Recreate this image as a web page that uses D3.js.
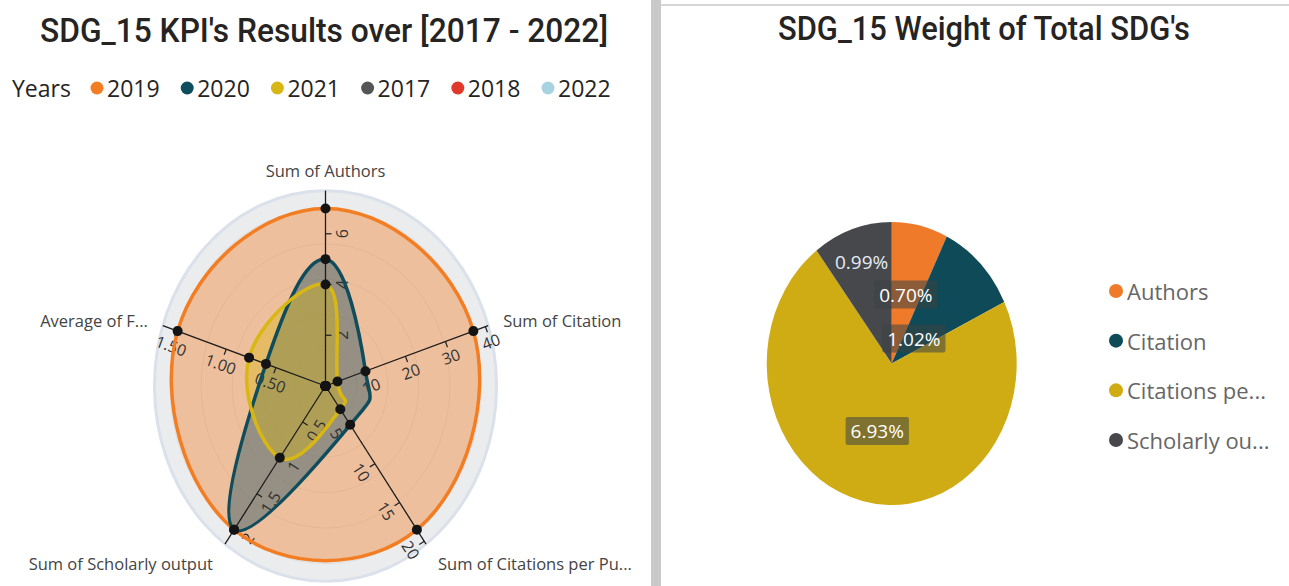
<!DOCTYPE html>
<html>
<head>
<meta charset="utf-8">
<script src="https://cdn.jsdelivr.net/npm/d3@7"></script>
<style>
  html, body { margin: 0; padding: 0; background: #ffffff; }
  svg { display: block; font-family: "Open Sans", "Noto Sans", sans-serif; }
</style>
</head>
<body>
<svg id="chart" width="1289" height="586"></svg>
<script>
// ---- Radar data: one value per KPI axis, per year ----
const kpiAxes = ["Sum of Authors", "Sum of Citation", "Sum of Citations per Pu...", "Sum of Scholarly output", "Average of F..."];
const years = ["2019", "2020", "2021", "2017", "2018", "2022"];
const values2019 = [7, 37, 18.5, 2, 1.49];
const values2020 = [5, 10, 5, 2, 0.6];
const values2021 = [4, 3, 3, 1, 0.77];
const values2017 = [0, 0, 0, 0, 0];
const values2018 = [0, 0, 0, 0, 0];
const values2022 = [0, 0, 0, 0, 0];

// tick values shown along each axis
const ticksAuthors = [2, 4, 6];
const ticksCitation = [10, 20, 30, 40];
const ticksCitPerPub = [5, 10, 15, 20];
const ticksScholarly = [0.5, 1, 1.5, 2];
const ticksAvgF = [0.5, 1, 1.5];

// ---- Pie data: share of total SDG output ----
const pieCategories = ["Authors", "Citation", "Citations pe...", "Scholarly ou..."];
const pieShares = [0.70, 1.02, 6.93, 0.99];

// ---- styling ----
const yearColors = ["#F27D22", "#0F4C5C", "#D8B714", "#555555", "#E0392B", "#A7D3E1"];
const pieColors = ["#EE7A2A", "#0F4A58", "#D0AC14", "#47484C"];
const titleFont = "Roboto, 'DejaVu Sans Condensed', sans-serif";

const svg = d3.select("#chart");

// ================= Left panel: radar =================
svg.append("text")
  .attr("x", 324).attr("y", 42)
  .attr("text-anchor", "middle")
  .attr("font-family", titleFont)
  .attr("font-weight", 500).attr("font-size", 34)
  .attr("fill", "#252423")
  .attr("textLength", 568).attr("lengthAdjust", "spacingAndGlyphs")
  .text("SDG_15 KPI's Results over [2017 - 2022]");

// legend row
const legend = svg.append("g");
legend.append("text").attr("x", 12).attr("y", 88)
  .attr("dominant-baseline", "central")
  .attr("font-size", 23).attr("fill", "#252423").text("Years");
const legendX = d3.scalePoint().domain(years).range([97, 548]);
years.forEach((y, i) => {
  const x = legendX(y);
  legend.append("circle").attr("cx", x).attr("cy", 88).attr("r", 6.5).attr("fill", yearColors[i]);
  legend.append("text").attr("x", x + 10).attr("y", 88)
    .attr("dominant-baseline", "central")
    .attr("font-size", 23).attr("fill", "#252423").text(y);
});

const seriesValues = [values2019, values2020, values2021, values2017, values2018, values2022];
const axisTicks = [ticksAuthors, ticksCitation, ticksCitPerPub, ticksScholarly, ticksAvgF];
const axisFormats = [d3.format("d"), d3.format("d"), d3.format("d"), d3.format("~g"), d3.format(".2f")];

const cx = 325.5, cy = 386, rMax = 155.5, yStretch = 1.142, rOut = rMax * 1.1;
const nAxes = kpiAxes.length;
const angleOf = i => i * 2 * Math.PI / nAxes;
const point = (i, r) => [cx + r * Math.sin(angleOf(i)), cy - r * Math.cos(angleOf(i)) * yStretch];

const axisMax = kpiAxes.map((_, i) => d3.max(seriesValues, s => s[i]));
const rScales = axisMax.map(m => d3.scaleLinear().domain([0, m]).range([0, rMax]));

const radar = svg.append("g");

// background rings
radar.append("ellipse").attr("cx", cx).attr("cy", cy)
  .attr("rx", rOut).attr("ry", rOut * yStretch)
  .attr("fill", "#ebecee").attr("stroke", "#dbe1ea").attr("stroke-width", 3);
[0.2, 0.4, 0.6, 0.8, 1.0].forEach(k => {
  radar.append("ellipse").attr("cx", cx).attr("cy", cy)
    .attr("rx", rMax * k).attr("ry", rMax * k * yStretch)
    .attr("fill", "none").attr("stroke", "#c9c9c9").attr("stroke-opacity", 0.45);
});

const lineGen = d3.line().curve(d3.curveCardinalClosed.tension(-0.25));
const seriesPoints = seriesValues.map(vals => vals.map((v, i) => point(i, rScales[i](v))));

// fills
seriesPoints.forEach((pts, s) => {
  radar.append("path").attr("d", lineGen(pts))
    .attr("fill", yearColors[s]).attr("fill-opacity", 0.4).attr("stroke", "none");
});

// axes, ticks and tick labels
kpiAxes.forEach((name, i) => {
  const [x2, y2] = point(i, rOut);
  radar.append("line").attr("x1", cx).attr("y1", cy).attr("x2", x2).attr("y2", y2)
    .attr("stroke", "#1c1c1c").attr("stroke-width", 1.3);
  // screen direction of the axis
  const deg = Math.atan2(y2 - cy, x2 - cx) * 180 / Math.PI;
  let rot = deg;
  if (rot >= 90) rot -= 180;
  if (rot < -90) rot += 180;
  const rr = rot * Math.PI / 180;
  const nx = -Math.sin(rr), ny = Math.cos(rr); // "below" in the text frame
  axisTicks[i].forEach(t => {
    const [tx, ty] = point(i, rScales[i](t));
    radar.append("line")
      .attr("x1", tx).attr("y1", ty).attr("x2", tx + nx * 6).attr("y2", ty + ny * 6)
      .attr("stroke", "#1c1c1c").attr("stroke-width", 1.2);
    radar.append("text")
      .attr("transform", `translate(${tx + nx * 16},${ty + ny * 16}) rotate(${rot})`)
      .attr("text-anchor", "middle").attr("dominant-baseline", "central")
      .attr("font-size", 16).attr("fill", "#333")
      .text(axisFormats[i](t));
  });
});

// strokes
seriesPoints.forEach((pts, s) => {
  radar.append("path").attr("d", lineGen(pts))
    .attr("fill", "none").attr("stroke", yearColors[s]).attr("stroke-width", 3.5);
});

// data points
seriesPoints.forEach(pts => {
  pts.forEach(p => {
    radar.append("circle").attr("cx", p[0]).attr("cy", p[1]).attr("r", 5).attr("fill", "#141414");
  });
});

// axis titles
kpiAxes.forEach((name, i) => {
  const [x2, y2] = point(i, rOut);
  const s = Math.sin(angleOf(i)), c = Math.cos(angleOf(i));
  let x = x2, y = y2, anchor = "middle";
  if (Math.abs(s) < 0.1) { y = y2 - 20; }
  else if (c > 0) { x = x2 + Math.sign(s) * 15; anchor = s > 0 ? "start" : "end"; y = y2 - 5; }
  else { x = x2 + Math.sign(s) * 12; anchor = s > 0 ? "start" : "end"; y = y2 + 19; }
  radar.append("text").attr("x", x).attr("y", y)
    .attr("text-anchor", anchor).attr("dominant-baseline", "central")
    .attr("font-size", 16.5).attr("fill", "#444").text(name);
});

// ================= Divider and right panel =================
svg.append("rect").attr("x", 651).attr("y", 0).attr("width", 10).attr("height", 586).attr("fill", "#c9c9c9");
svg.append("line").attr("x1", 661).attr("y1", 5).attr("x2", 1289).attr("y2", 5)
  .attr("stroke", "#d6d6d6").attr("stroke-width", 2);

svg.append("text")
  .attr("x", 984).attr("y", 40)
  .attr("text-anchor", "middle")
  .attr("font-family", titleFont)
  .attr("font-weight", 500).attr("font-size", 34)
  .attr("fill", "#252423")
  .attr("textLength", 412).attr("lengthAdjust", "spacingAndGlyphs")
  .text("SDG_15 Weight of Total SDG's");

// pie
const pcx = 891.7, pcy = 363.5, pr = 125, pStretch = 1.132;
const pie = d3.pie().sort(null).value(d => d)(pieShares);
const arc = d3.arc().innerRadius(0).outerRadius(pr);
const pieG = svg.append("g").attr("transform", `translate(${pcx},${pcy}) scale(1,${pStretch})`);
pieG.selectAll("path").data(pie).join("path")
  .attr("d", arc).attr("fill", (d, i) => pieColors[i]);

// data labels placed inside each slice
const labelFrac = [0.50, 0.25, 0.49, 0.76];
const fmtPct = d3.format(".2f");
pie.forEach((d, i) => {
  const mid = (d.startAngle + d.endAngle) / 2;
  const r = pr * labelFrac[i];
  const x = pcx + r * Math.sin(mid), y = pcy - r * Math.cos(mid) * pStretch;
  const g = svg.append("g");
  const t = g.append("text").attr("x", x).attr("y", y)
    .attr("text-anchor", "middle").attr("dominant-baseline", "central")
    .attr("font-size", 19).attr("fill", i === 3 ? "#e3ecf5" : "#ffffff")
    .text(fmtPct(d.data) + "%");
  const bb = t.node().getBBox();
  g.insert("rect", "text")
    .attr("x", bb.x - 5).attr("y", y - 14).attr("width", bb.width + 10).attr("height", 28)
    .attr("rx", 2).attr("fill", "#3c4444").attr("fill-opacity", i === 3 ? 0 : 0.55);
});

// pie legend
const pieLegendY = d3.scalePoint().domain(pieCategories).range([291, 440]);
pieCategories.forEach((c, i) => {
  const y = pieLegendY(c);
  svg.append("circle").attr("cx", 1116).attr("cy", y).attr("r", 7).attr("fill", pieColors[i]);
  svg.append("text").attr("x", 1127).attr("y", y)
    .attr("dominant-baseline", "central")
    .attr("font-size", 22).attr("fill", "#666").text(c);
});
</script>
</body>
</html>
